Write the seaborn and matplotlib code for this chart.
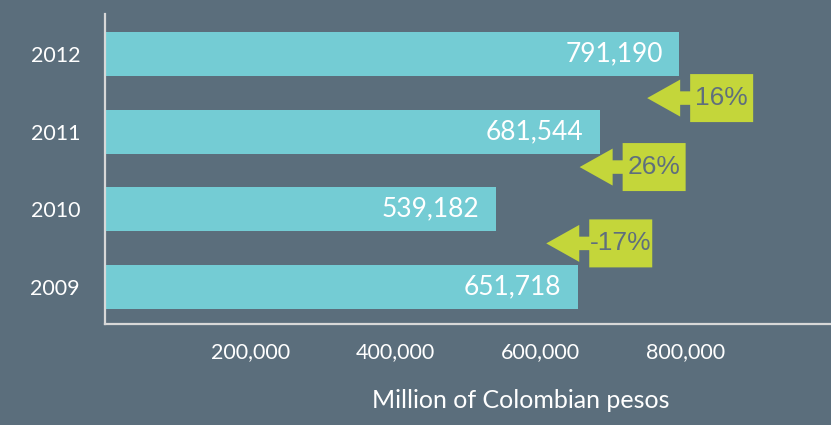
import matplotlib
matplotlib.use("Agg")
import matplotlib.pyplot as plt
from matplotlib.patches import Polygon
from matplotlib.transforms import IdentityTransform
import seaborn as sns
import pandas as pd

# ---- data ----
years = ["2012", "2011", "2010", "2009"]
values = [791190, 681544, 539182, 651718]
value_labels = ["791,190", "681,544", "539,182", "651,718"]
changes = ["16%", "26%", "-17%"]
x_ticks = [200000, 400000, 600000, 800000]
x_tick_labels = ["200,000", "400,000", "600,000", "800,000"]
x_title = "Million of Colombian pesos"

# ---- style ----
BG = "#5b6e7c"
BAR = "#74ccd4"
GREEN = "#c4d63a"
PCT_TXT = "#5f6f7d"
SPINE = "#d8d8d8"

# arrow box placement (box left edge in data x, centre in data y)
box_left_x = [806000, 713000, 667000]
box_center_y = [0.565, 1.455, 2.44]

sns.set_theme(style="white")
plt.rcParams["font.family"] = ["Lato", "DejaVu Sans"]

df = pd.DataFrame({"year": years, "value": values})

fig = plt.figure(figsize=(8.31, 4.25), dpi=100, facecolor=BG)
ax = fig.add_axes([105 / 831, 1 - 324 / 425, 1 - 105 / 831, 310 / 425])
ax.set_facecolor(BG)

sns.barplot(data=df, x="value", y="year", order=years, orient="h",
            color=BAR, saturation=1, width=0.57, linewidth=0, ax=ax)

ax.set_xlim(0, 1000000)
ax.set_ylim(3.48, -0.52)

for s in ["top", "right"]:
    ax.spines[s].set_visible(False)
for s in ["left", "bottom"]:
    ax.spines[s].set_color(SPINE)
    ax.spines[s].set_linewidth(1.6)

ax.set_xticks(x_ticks)
ax.set_xticklabels(x_tick_labels)
ax.tick_params(axis="x", length=0, pad=13, labelsize=15.5, labelcolor="white")
ax.tick_params(axis="y", length=0, pad=18, labelsize=15.5, labelcolor="white")
ax.set_ylabel("")
ax.set_xlabel(x_title, fontsize=18, color="white")
ax.xaxis.set_label_coords(0.573, -0.248)
ax.xaxis.label.set_va("center")

for i, (v, lab) in enumerate(zip(values, value_labels)):
    ax.annotate(lab, xy=(v, i), xytext=(-12, 0), textcoords="offset points",
                ha="right", va="center", color="white", fontsize=19)

fig.canvas.draw()
for lab, bx, by in zip(changes, box_left_x, box_center_y):
    L, cy = ax.transData.transform((bx, by))
    verts = [(L + 63, cy + 24), (L, cy + 24), (L, cy + 6.75), (L - 10, cy + 6.75),
             (L - 10, cy + 18.5), (L - 43, cy), (L - 10, cy - 18.5), (L - 10, cy - 6.75),
             (L, cy - 6.75), (L, cy - 24), (L + 63, cy - 24)]
    poly = Polygon(verts, closed=True, facecolor=GREEN, edgecolor="none",
                   transform=IdentityTransform())
    fig.patches.append(poly)
    poly.set_figure(fig)
    fig.text((L + 31.5) / fig.bbox.width, cy / fig.bbox.height, lab,
             ha="center", va="center", fontsize=19, color=PCT_TXT,
             family=["Liberation Sans", "DejaVu Sans"])

fig.savefig("out.png", dpi=100, facecolor=BG)
